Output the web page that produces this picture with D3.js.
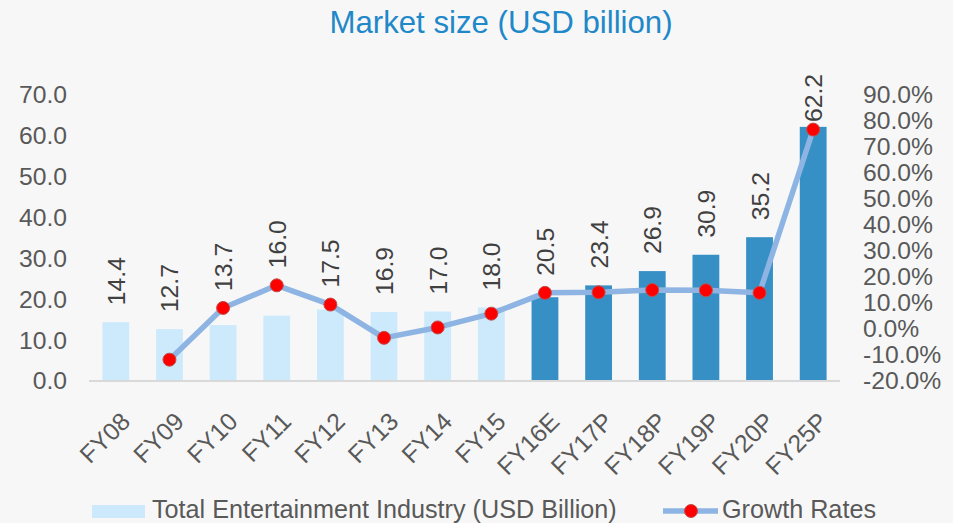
<!DOCTYPE html>
<html>
<head>
<meta charset="utf-8">
<script src="https://cdn.jsdelivr.net/npm/d3@7"></script>
<style>
  html, body { margin: 0; padding: 0; background: #f7f7f7; }
  svg { display: block; font-family: "Liberation Sans", Arial, sans-serif; }
</style>
</head>
<body>
<script>
// data
const years = ['FY08', 'FY09', 'FY10', 'FY11', 'FY12', 'FY13', 'FY14', 'FY15', 'FY16E', 'FY17P', 'FY18P', 'FY19P', 'FY20P', 'FY25P'];
const marketSize = [14.4, 12.7, 13.7, 16.0, 17.5, 16.9, 17.0, 18.0, 20.5, 23.4, 26.9, 30.9, 35.2, 62.2];
const growthRates = [null, -11.8, 8.1, 16.8, 9.4, -3.4, 0.6, 5.9, 13.9, 14.1, 15.0, 14.9, 13.9, 76.7];
const projected = [false, false, false, false, false, false, false, false, true, true, true, true, true, true];
const leftTicks = [0, 10, 20, 30, 40, 50, 60, 70];
const rightTicks = [-20, -10, 0, 10, 20, 30, 40, 50, 60, 70, 80, 90];

const width = 953, height = 523;
const margin = { top: 95, right: 113, bottom: 142, left: 89 };
const fontSize = 24.7;

const svg = d3.select('body').append('svg')
    .attr('width', width)
    .attr('height', height);

svg.append('rect')
    .attr('width', width).attr('height', height)
    .attr('fill', '#f7f7f7');

// title
svg.append('text')
    .attr('x', 501).attr('y', 33)
    .attr('text-anchor', 'middle')
    .attr('font-size', 31.2)
    .attr('fill', '#1f88c9')
    .text('Market size (USD billion)');

const x = d3.scaleBand()
    .domain(years)
    .range([margin.left, width - margin.right])
    .paddingInner(0.5)
    .paddingOuter(0.25);

const y = d3.scaleLinear()
    .domain([0, 70])
    .range([height - margin.bottom, margin.top]);

const y2 = d3.scaleLinear()
    .domain([-20, 90])
    .range([height - margin.bottom, margin.top]);

// left axis
const axisL = svg.append('g')
    .attr('transform', 'translate(' + (margin.left - 22) + ',0)')
    .call(d3.axisLeft(y).tickValues(leftTicks).tickFormat(d3.format('.1f')).tickSize(0).tickPadding(0));
axisL.select('.domain').remove();
axisL.selectAll('text')
    .attr('font-size', fontSize)
    .attr('font-family', '"Liberation Sans", Arial, sans-serif')
    .attr('fill', '#595959');

// right axis
const axisR = svg.append('g')
    .attr('transform', 'translate(' + (width - margin.right + 23) + ',0)')
    .call(d3.axisRight(y2).tickValues(rightTicks).tickFormat(d => d.toFixed(1) + '%').tickSize(0).tickPadding(0));
axisR.select('.domain').remove();
axisR.selectAll('text')
    .attr('font-size', fontSize)
    .attr('font-family', '"Liberation Sans", Arial, sans-serif')
    .attr('fill', '#595959');

// bars
svg.append('g')
    .selectAll('rect')
    .data(years)
    .join('rect')
    .attr('x', d => x(d))
    .attr('y', (d, i) => y(marketSize[i]))
    .attr('width', x.bandwidth())
    .attr('height', (d, i) => y(0) - y(marketSize[i]))
    .attr('fill', (d, i) => projected[i] ? '#3690c6' : '#cdeafc');

// baseline
svg.append('line')
    .attr('x1', margin.left).attr('x2', width - margin.right)
    .attr('y1', y(0)).attr('y2', y(0))
    .attr('stroke', '#d9d9d9')
    .attr('stroke-width', 2);

// x labels
svg.append('g')
    .selectAll('text')
    .data(years)
    .join('text')
    .attr('transform', d => 'translate(' + (x(d) + x.bandwidth() / 2 + 16) + ',' + (y(0) + 42) + ') rotate(-45)')
    .attr('text-anchor', 'end')
    .attr('font-size', fontSize)
    .attr('fill', '#595959')
    .text(d => d);

// growth line
const lineData = years.map((d, i) => ({ year: d, value: growthRates[i] })).filter(d => d.value != null);
const line = d3.line()
    .x(d => x(d.year) + x.bandwidth() / 2)
    .y(d => y2(d.value));

svg.append('path')
    .datum(lineData)
    .attr('d', line)
    .attr('fill', 'none')
    .attr('stroke', '#8db4e2')
    .attr('stroke-width', 5.5)
    .attr('stroke-linejoin', 'round');

svg.append('g')
    .selectAll('circle')
    .data(lineData)
    .join('circle')
    .attr('cx', d => x(d.year) + x.bandwidth() / 2)
    .attr('cy', d => y2(d.value))
    .attr('r', 6.5)
    .attr('fill', '#ff0000')
    .attr('stroke', '#c0504d')
    .attr('stroke-width', 1);

// value labels, rotated, kept inside the plot area
const labelTop = 74;
svg.append('g')
    .selectAll('text')
    .data(years)
    .join('text')
    .each(function (d, i) {
        let bottom = y(marketSize[i]);
        if (growthRates[i] != null) bottom = Math.min(bottom, y2(growthRates[i]));
        bottom -= 17;
        const len = 1.946 * fontSize;
        if (bottom - len < labelTop) bottom = labelTop + len;
        d3.select(this)
            .attr('transform', 'translate(' + (x(d) + x.bandwidth() / 2 + 9) + ',' + bottom + ') rotate(-90)');
    })
    .attr('text-anchor', 'start')
    .attr('font-size', fontSize)
    .attr('fill', '#404040')
    .text((d, i) => marketSize[i].toFixed(1));

// legend
const legend = svg.append('g');
legend.append('rect')
    .attr('x', 92).attr('y', 505)
    .attr('width', 53).attr('height', 13)
    .attr('fill', '#cdeafc');
legend.append('text')
    .attr('x', 152).attr('y', 518)
    .attr('font-size', 25.2)
    .attr('fill', '#595959')
    .text('Total Entertainment Industry (USD Billion)');
legend.append('line')
    .attr('x1', 663).attr('x2', 718)
    .attr('y1', 511).attr('y2', 511)
    .attr('stroke', '#8db4e2')
    .attr('stroke-width', 5.5);
legend.append('circle')
    .attr('cx', 691).attr('cy', 511)
    .attr('r', 6.5)
    .attr('fill', '#ff0000')
    .attr('stroke', '#c0504d');
legend.append('text')
    .attr('x', 722).attr('y', 518)
    .attr('font-size', 25.2)
    .attr('fill', '#595959')
    .text('Growth Rates');
</script>
</body>
</html>
